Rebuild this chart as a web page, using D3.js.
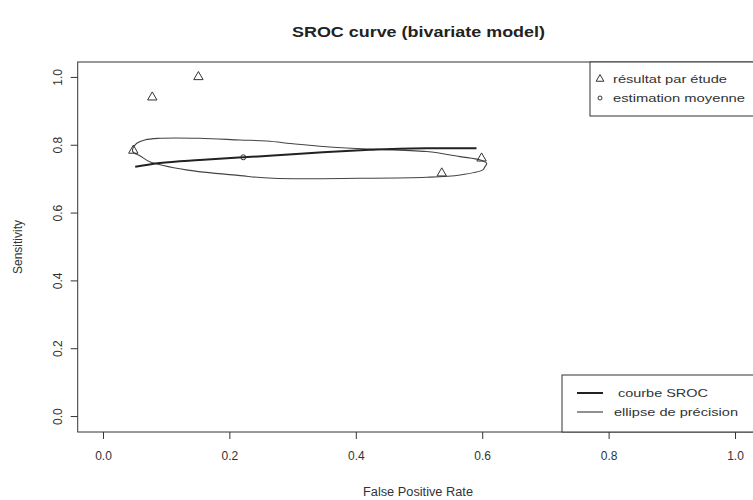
<!DOCTYPE html>
<html>
<head>
<meta charset="utf-8">
<script src="https://cdn.jsdelivr.net/npm/d3@7"></script>
<style>
  body { margin: 0; background: #fff; }
  svg text { font-family: "Liberation Sans", Arial, sans-serif; }
</style>
</head>
<body>
<svg id="chart" width="753" height="500"></svg>
<script>
// ---- data ----
const studyFpr  = [0.078, 0.151, 0.048, 0.536, 0.599];
const studySens = [0.940, 1.000, 0.783, 0.716, 0.760];

const meanFpr  = [0.222];
const meanSens = [0.763];

const srocFpr  = [0.051, 0.090, 0.153, 0.222, 0.269, 0.348, 0.422, 0.512, 0.591];
const srocSens = [0.735, 0.746, 0.755, 0.763, 0.768, 0.778, 0.785, 0.790, 0.790];

const ellipseFpr  = [0.047, 0.052, 0.066, 0.090, 0.153, 0.217, 0.259, 0.304, 0.354, 0.411, 0.512, 0.565, 0.597, 0.607, 0.604, 0.601, 0.565, 0.512, 0.407, 0.269, 0.217, 0.132, 0.074, 0.059];
const ellipseSens = [0.780, 0.802, 0.814, 0.819, 0.819, 0.814, 0.811, 0.802, 0.794, 0.788, 0.780, 0.765, 0.755, 0.745, 0.734, 0.726, 0.711, 0.704, 0.701, 0.701, 0.709, 0.726, 0.750, 0.767];

const xTicks = [0, 0.2, 0.4, 0.6, 0.8, 1.0];
const yTicks = [0, 0.2, 0.4, 0.6, 0.8, 1.0];

const titleText = "SROC curve (bivariate model)";
const xLabel = "False Positive Rate";
const yLabel = "Sensitivity";
const legendTop = ["résultat par étude", "estimation moyenne"];
const legendBottom = ["courbe SROC", "ellipse de précision"];

// ---- drawing ----
const svg = d3.select("#chart");
const ink = "#333";

const x = d3.scaleLinear().domain([-0.04, 1.04]).range([77.7, 760.3]);
const y = d3.scaleLinear().domain([-0.047, 1.044]).range([432, 62]);

// plot box
svg.append("rect")
  .attr("x", x(-0.04)).attr("y", y(1.044))
  .attr("width", x(1.04) - x(-0.04)).attr("height", y(-0.047) - y(1.044))
  .attr("fill", "none").attr("stroke", ink).attr("stroke-width", 1);

// x axis
const xAxis = d3.axisBottom(x).tickValues(xTicks).tickFormat(d3.format(".1f")).tickSize(7).tickPadding(12);
const gx = svg.append("g").attr("transform", `translate(0,${y(-0.047)})`).call(xAxis);
gx.select(".domain").remove();
gx.selectAll("line").attr("stroke", ink);
gx.selectAll("text").attr("fill", ink).attr("font-size", 12);

// y axis
const yAxis = d3.axisLeft(y).tickValues(yTicks).tickFormat(d3.format(".1f")).tickSize(7).tickPadding(0);
const gy = svg.append("g").attr("transform", `translate(${x(-0.04)},0)`).call(yAxis);
gy.select(".domain").remove();
gy.selectAll("line").attr("stroke", ink);
gy.selectAll("text")
  .attr("fill", ink).attr("font-size", 12)
  .attr("x", null).attr("dy", null)
  .attr("text-anchor", "middle")
  .attr("transform", "translate(-20,0) rotate(-90)")
  .attr("dy", "0.35em");

// title & axis labels
svg.append("text").attr("x", 418.5).attr("y", 37).attr("text-anchor", "middle")
  .attr("font-weight", "bold").attr("font-size", 14).attr("fill", "#222")
  .attr("textLength", 253).attr("lengthAdjust", "spacingAndGlyphs").text(titleText);
svg.append("text").attr("x", 418).attr("y", 496).attr("text-anchor", "middle")
  .attr("font-size", 12).attr("fill", ink)
  .attr("textLength", 110).attr("lengthAdjust", "spacingAndGlyphs").text(xLabel);
svg.append("text").attr("transform", `translate(22,${(62 + 432) / 2}) rotate(-90)`)
  .attr("text-anchor", "middle").attr("font-size", 12).attr("fill", ink).text(yLabel);

// clip to plot area
svg.append("clipPath").attr("id", "clip").append("rect")
  .attr("x", x(-0.04)).attr("y", y(1.044))
  .attr("width", x(1.04) - x(-0.04)).attr("height", y(-0.047) - y(1.044));
const plot = svg.append("g").attr("clip-path", "url(#clip)");

// ellipse
const ellipse = ellipseFpr.map((f, i) => [f, ellipseSens[i]]);
plot.append("path")
  .attr("d", d3.line().x(d => x(d[0])).y(d => y(d[1])).curve(d3.curveCatmullRomClosed.alpha(0.5))(ellipse))
  .attr("fill", "none").attr("stroke", "#444").attr("stroke-width", 1.1);

// SROC curve
const sroc = srocFpr.map((f, i) => [f, srocSens[i]]);
plot.append("path")
  .attr("d", d3.line().x(d => x(d[0])).y(d => y(d[1])).curve(d3.curveMonotoneX)(sroc))
  .attr("fill", "none").attr("stroke", "#222").attr("stroke-width", 2);

// triangles
const tri = d3.symbol().type(d3.symbolTriangle).size(38);
plot.selectAll("path.study").data(studyFpr.map((f, i) => [f, studySens[i]])).join("path")
  .attr("class", "study")
  .attr("d", tri)
  .attr("transform", d => `translate(${x(d[0])},${y(d[1])})`)
  .attr("fill", "none").attr("stroke", "#333").attr("stroke-width", 1);

// mean circle
plot.selectAll("circle.mean").data(meanFpr.map((f, i) => [f, meanSens[i]])).join("circle")
  .attr("class", "mean")
  .attr("cx", d => x(d[0])).attr("cy", d => y(d[1])).attr("r", 2.5)
  .attr("fill", "none").attr("stroke", "#333").attr("stroke-width", 1);

// top-right legend
const lt = svg.append("g");
lt.append("rect").attr("x", 590).attr("y", 62).attr("width", 170).attr("height", 54)
  .attr("fill", "#fff").attr("stroke", ink);
lt.append("path").attr("d", d3.symbol().type(d3.symbolTriangle).size(26))
  .attr("transform", "translate(600,79)").attr("fill", "none").attr("stroke", "#333");
lt.append("circle").attr("cx", 600).attr("cy", 98).attr("r", 2)
  .attr("fill", "none").attr("stroke", "#333");
const topLens = [114, 132];
legendTop.forEach((t, i) => {
  lt.append("text").attr("x", 613).attr("y", 79 + i * 19).attr("dy", "0.35em")
    .attr("font-size", 11).attr("fill", ink)
    .attr("textLength", topLens[i]).attr("lengthAdjust", "spacingAndGlyphs").text(t);
});

// bottom-right legend
const lb = svg.append("g");
lb.append("rect").attr("x", 562).attr("y", 375).attr("width", 198).attr("height", 57)
  .attr("fill", "#fff").attr("stroke", ink);
[2, 1].forEach((w, i) => {
  lb.append("line").attr("x1", 577).attr("x2", 603).attr("y1", 393 + i * 19).attr("y2", 393 + i * 19)
    .attr("stroke", "#222").attr("stroke-width", w);
});
const botLens = [90, 124];
legendBottom.forEach((t, i) => {
  lb.append("text").attr("x", i === 0 ? 618 : 614).attr("y", 393 + i * 19).attr("dy", "0.35em")
    .attr("font-size", 11).attr("fill", ink)
    .attr("textLength", botLens[i]).attr("lengthAdjust", "spacingAndGlyphs").text(t);
});
</script>
</body>
</html>
